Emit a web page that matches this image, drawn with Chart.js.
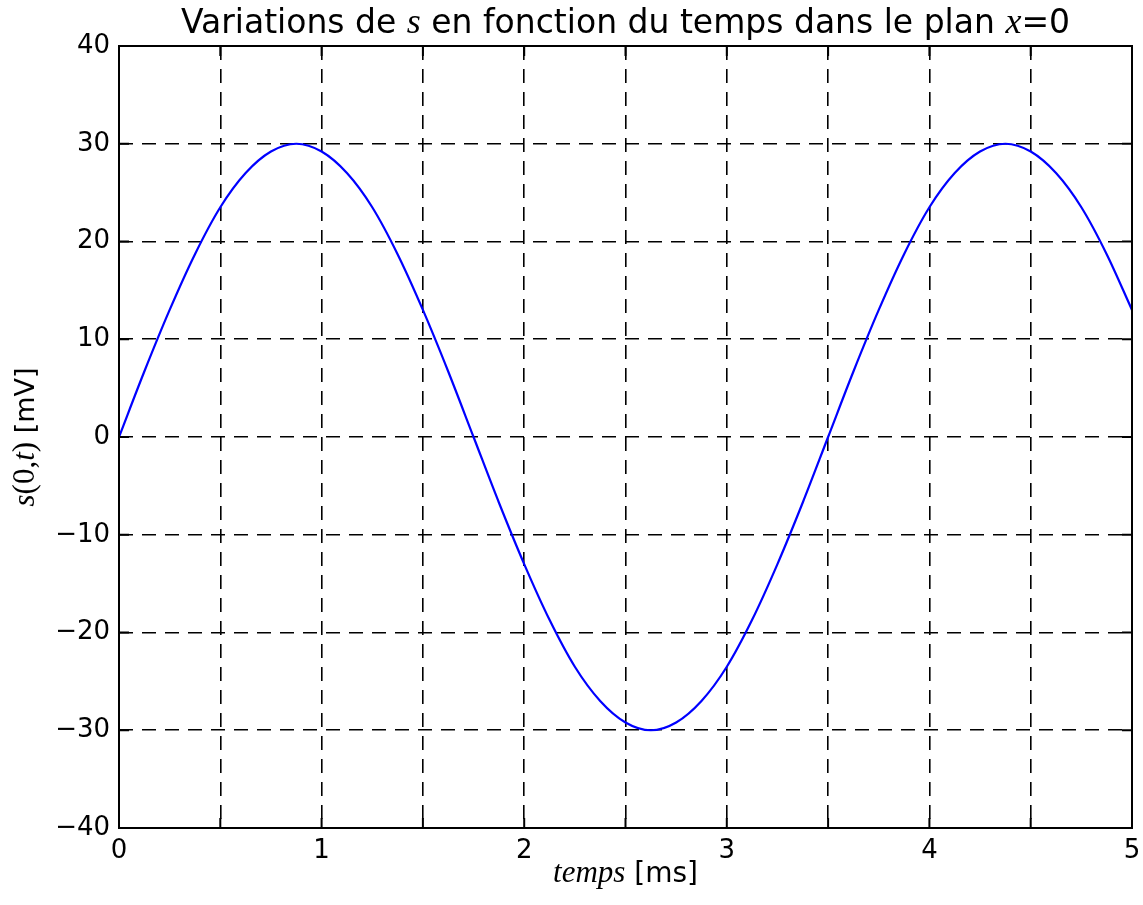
<!DOCTYPE html>
<html>
<head>
<meta charset="utf-8">
<script src="https://cdn.jsdelivr.net/npm/chart.js@4"></script>
<style>
html, body { margin: 0; padding: 0; background: #fff; }
</style>
</head>
<body>
<canvas id="chart" width="1143" height="905"></canvas>
<script>
// temps en ms, s(0,t) en mV
var temps = [0, 0.125, 0.25, 0.375, 0.5, 0.625, 0.75, 0.875, 1, 1.125, 1.25, 1.375, 1.5, 1.625, 1.75,
  1.875, 2, 2.125, 2.25, 2.375, 2.5, 2.625, 2.75, 2.875, 3, 3.125, 3.25, 3.375, 3.5,
  3.625, 3.75, 3.875, 4, 4.125, 4.25, 4.375, 4.5, 4.625, 4.75, 4.875, 5];
var signal = [0, 6.7, 13.0, 18.7, 23.5, 27.0, 29.2, 30, 29.2, 27.0, 23.5, 18.7, 13.0, 6.7, 0,
  -6.7, -13.0, -18.7, -23.5, -27.0, -29.2, -30, -29.2, -27.0, -23.5, -18.7, -13.0, -6.7, 0,
  6.7, 13.0, 18.7, 23.5, 27.0, 29.2, 30, 29.2, 27.0, 23.5, 18.7, 13.0];
var xTickLabels = ['0', '1', '2', '3', '4', '5'];
var yTickLabels = ['\u221240', '\u221230', '\u221220', '\u221210', '0', '10', '20', '30', '40'];

var sans = 'DejaVu Sans';
var serif = 'Liberation Serif';

var points = temps.map(function (t, i) { return { x: t, y: signal[i] }; });

// cadre + graduations vers l'interieur (style matplotlib)
var cadre = {
  id: 'cadre',
  afterDatasetsDraw: function (chart) {
    var c = chart.ctx, a = chart.chartArea;
    var sx = chart.scales.x, sy = chart.scales.y;
    c.save();
    c.strokeStyle = '#000';
    c.lineWidth = 2;
    c.setLineDash([]);
    c.beginPath();
    sx.ticks.forEach(function (t) {
      var px = sx.getPixelForValue(t.value);
      c.moveTo(px, a.bottom); c.lineTo(px, a.bottom - 10);
      c.moveTo(px, a.top); c.lineTo(px, a.top + 10);
    });
    sy.ticks.forEach(function (t) {
      var py = sy.getPixelForValue(t.value);
      c.moveTo(a.left, py); c.lineTo(a.left + 10, py);
      c.moveTo(a.right, py); c.lineTo(a.right - 10, py);
    });
    c.stroke();
    c.strokeRect(a.left, a.top, a.right - a.left, a.bottom - a.top);
    c.restore();
  }
};

function drawRuns(c, runs, x, y) {
  var w = 0;
  runs.forEach(function (r) { c.font = r[1]; w += c.measureText(r[0]).width; });
  var cx = x - w / 2;
  runs.forEach(function (r) {
    c.font = r[1];
    c.fillText(r[0], cx, y);
    cx += c.measureText(r[0]).width;
  });
}

// titres avec les parties en mode math (italique serif)
var textes = {
  id: 'textes',
  afterDraw: function (chart) {
    var c = chart.ctx, a = chart.chartArea;
    var mid = (a.left + a.right) / 2;
    c.save();
    c.fillStyle = '#000';
    c.textBaseline = 'alphabetic';
    c.textAlign = 'left';
    drawRuns(c, [
      ['Variations de ', '33px "' + sans + '"'],
      ['s', 'italic 36px "' + serif + '"'],
      [' en fonction du temps dans le plan ', '33px "' + sans + '"'],
      ['x', 'italic 36px "' + serif + '"'],
      ['=0', '33px "' + sans + '"']
    ], mid, 33);
    drawRuns(c, [
      ['temps', 'italic 31px "' + serif + '"'],
      [' [ms]', '28px "' + sans + '"']
    ], mid, 882);
    c.translate(34, (a.top + a.bottom) / 2);
    c.rotate(-Math.PI / 2);
    drawRuns(c, [
      ['s', 'italic 31px "' + serif + '"'],
      ['(0,', '31px "' + serif + '"'],
      ['t', 'italic 31px "' + serif + '"'],
      [')', '31px "' + serif + '"'],
      [' [mV]', '27px "' + sans + '"']
    ], 0, 0);
    c.restore();
  }
};

var ctx = document.getElementById('chart').getContext('2d');
var myChart = new Chart(ctx, {
  type: 'line',
  data: {
    datasets: [{
      data: points,
      borderColor: '#0000ff',
      borderWidth: 2.2,
      pointRadius: 0,
      fill: false,
      cubicInterpolationMode: 'monotone'
    }]
  },
  plugins: [cadre, textes],
  options: {
    responsive: false,
    animation: false,
    events: [],
    layout: { padding: { top: 46, right: 11, left: 0, bottom: 0 } },
    plugins: { legend: { display: false }, title: { display: false }, tooltip: { enabled: false } },
    scales: {
      x: {
        type: 'linear',
        min: 0, max: 5,
        afterFit: function (s) { s.height = 77; s.paddingLeft = 0; s.paddingRight = 0; },
        ticks: {
          stepSize: 0.5,
          autoSkip: false,
          maxRotation: 0,
          padding: 8,
          color: '#000',
          font: { family: sans, size: 26 },
          callback: function (v) { return Number.isInteger(v) ? xTickLabels[v] : ''; }
        },
        grid: { color: '#000', lineWidth: 1.6, drawTicks: false },
        border: { display: false, dash: [14, 9] }
      },
      y: {
        min: -40, max: 40,
        afterFit: function (s) { s.width = 119; s.paddingTop = 0; s.paddingBottom = 0; },
        ticks: {
          stepSize: 10,
          padding: 9,
          color: '#000',
          font: { family: sans, size: 26 },
          callback: function (v) { return yTickLabels[(v + 40) / 10]; }
        },
        grid: { color: '#000', lineWidth: 1.6, drawTicks: false },
        border: { display: false, dash: [14, 9] }
      }
    }
  }
});
</script>
</body>
</html>
